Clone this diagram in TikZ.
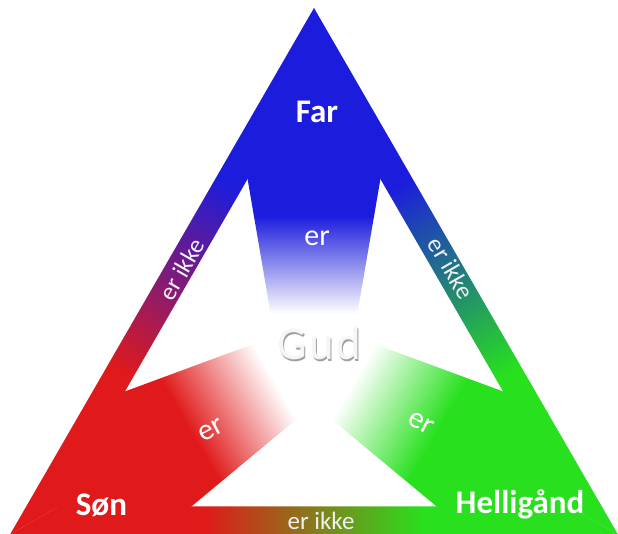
\documentclass[tikz,border=0pt]{standalone}
\usepackage{fontspec}
\setmainfont{Carlito}
\definecolor{cblue}{RGB}{28,28,220}
\definecolor{cred}{RGB}{224,26,26}
\definecolor{cgreen}{RGB}{40,224,30}
\definecolor{gudfill}{RGB}{246,246,246}
\definecolor{gudshade}{RGB}{160,160,160}
\pgfdeclareverticalshading{fadeblue}{100bp}{color(0bp)=(white); color(29.5bp)=(white); color(47bp)=(cblue); color(100bp)=(cblue)}
\pgfdeclareverticalshading{fadered}{100bp}{color(0bp)=(white); color(29.5bp)=(white); color(47bp)=(cred); color(100bp)=(cred)}
\pgfdeclareverticalshading{fadegreen}{100bp}{color(0bp)=(white); color(29.5bp)=(white); color(47bp)=(cgreen); color(100bp)=(cgreen)}
\pgfdeclarehorizontalshading{bandRG}{100bp}{color(0bp)=(cred); color(41bp)=(cred); color(59bp)=(cgreen); color(100bp)=(cgreen)}
\pgfdeclarehorizontalshading{bandBR}{100bp}{color(0bp)=(cblue); color(41bp)=(cblue); color(59bp)=(cred); color(100bp)=(cred)}
\pgfdeclarehorizontalshading{bandGB}{100bp}{color(0bp)=(cgreen); color(41bp)=(cgreen); color(59bp)=(cblue); color(100bp)=(cblue)}
\begin{document}
\begin{tikzpicture}[x=1pt,y=1pt,
  corner/.style={text=white,font=\bfseries\fontsize{33}{33}\selectfont,inner sep=0pt},
  armtext/.style={text=white,font=\fontsize{30}{30}\selectfont,inner sep=0pt},
  bandtext/.style={text=white!94!black,font=\fontsize{25}{25}\selectfont,inner sep=0pt},
  gudtext/.style={font=\fontsize{47}{47}\selectfont\addfontfeatures{LetterSpace=5},inner sep=0pt}]
\useasboundingbox (0,0) rectangle (618,534);
\fill[white] (0,0) rectangle (618,534);
\coordinate (C) at (314,175);
% edge bands
\shade[shading=bandRG] (10,-0.5) -- (618,-0.5) -- (569.5,27.5) -- (58.5,27.5) -- cycle;
\begin{scope}[transform canvas={rotate around={-120:(314,175)}}]
\shade[shading=bandBR] (10,-0.5) -- (618,-0.5) -- (569.5,27.5) -- (58.5,27.5) -- cycle;
\end{scope}
\begin{scope}[transform canvas={rotate around={120:(314,175)}}]
\shade[shading=bandGB] (10,-0.5) -- (618,-0.5) -- (569.5,27.5) -- (58.5,27.5) -- cycle;
\end{scope}
% arms (clipped to a triangle a hair larger than the white inner one)
\begin{scope}
\clip (314,472) -- (56.8,26.5) -- (571.2,26.5) -- cycle;
\shade[shading=fadeblue] (227,475) -- (401,475) -- (353,195) -- (275,195) -- cycle;
\begin{scope}[transform canvas={rotate around={120:(314,175)}}]
\shade[shading=fadered] (227,475) -- (401,475) -- (353,195) -- (275,195) -- cycle;
\end{scope}
\begin{scope}[transform canvas={rotate around={-120:(314,175)}}]
\shade[shading=fadegreen] (227,475) -- (401,475) -- (353,195) -- (275,195) -- cycle;
\end{scope}
\end{scope}
% labels
\node[corner,anchor=base] (far) at (317,411) {Far};
\node[corner,anchor=base] (son) at (101.5,18) {Søn};
\node[corner,anchor=base] (hellig) at (520,20) {Helligånd};
\node[armtext] (erfar) at (317,296) {er};
\node[armtext,rotate=28] (erson) at (211,104) {er};
\node[armtext,rotate=-28] (erhel) at (421,111) {er};
\node[bandtext,rotate=60] (ikkeL) at (182,265) {er ikke};
\node[bandtext,rotate=-60] (ikkeR) at (451,266) {er ikke};
\node[bandtext] (ikkeB) at (321,13.5) {er ikke};
\node[gudtext,text=gudshade,anchor=base] (gudsh) at (320.4,172.8) {Gud};
\node[gudtext,text=gudfill,anchor=base] (gud) at (319,174) {Gud};
\end{tikzpicture}
\end{document}
